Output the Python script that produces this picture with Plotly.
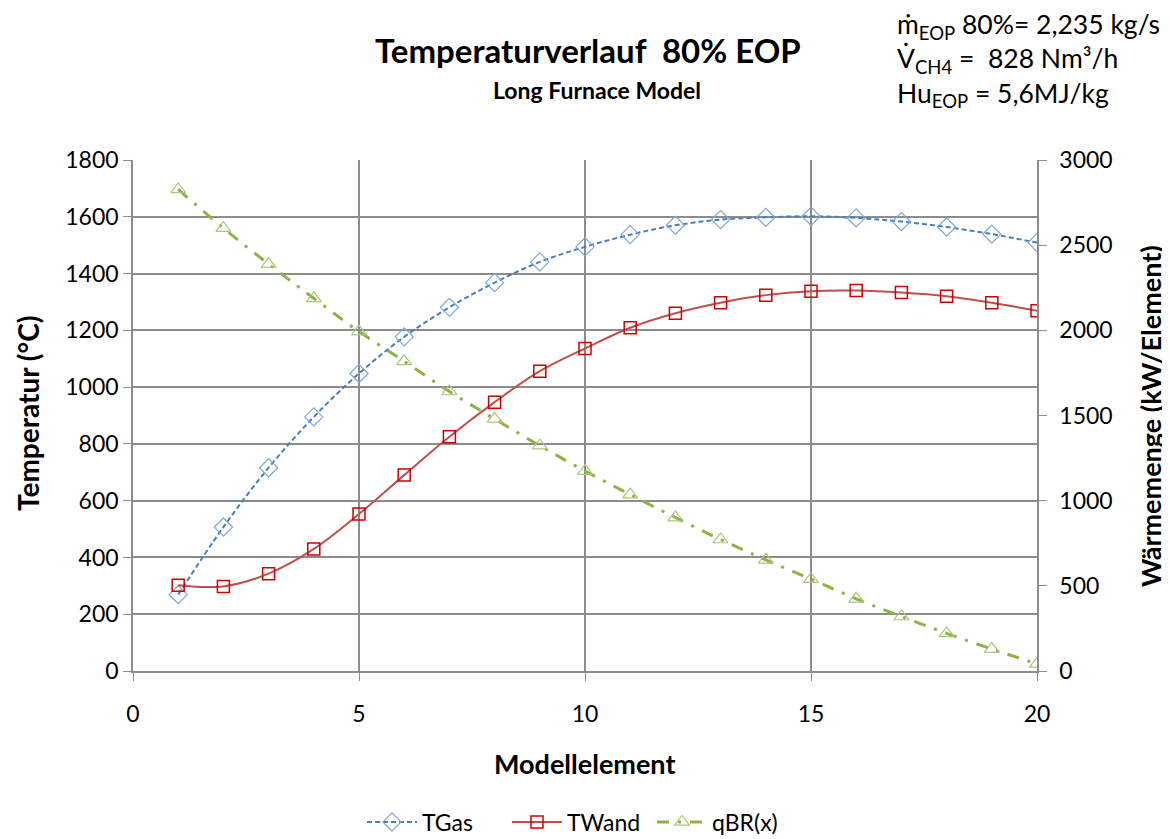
import plotly.graph_objects as go

elements = list(range(1, 21))
t_gas = [269, 507, 716, 895, 1048, 1177, 1281, 1368, 1441, 1494,
         1537, 1570, 1590, 1598, 1602, 1596, 1583, 1564, 1539, 1509]
t_wand = [302, 298, 343, 430, 553, 690, 825, 947, 1056, 1136,
          1209, 1260, 1297, 1324, 1338, 1340, 1333, 1320, 1297, 1269]
q_br = [2827, 2600, 2389, 2188, 1993, 1818, 1641, 1480, 1323, 1174,
        1036, 901, 772, 652, 539, 424, 320, 221, 129, 42]

FONT = "Lato"
GRID = "#8c8c8c"

# plot area on screen (px): x 133..1037, y 160..671 ; figure drawn with 8px page offset
X0, X1, Y0, Y1 = 133, 1037, 160, 671


def px(xp):
    return (xp - X0) / (X1 - X0)


def py(yp):
    return (Y1 - yp) / (Y1 - Y0)


fig = go.Figure()
fig.add_trace(go.Scatter(
    x=elements, y=t_gas, name="TGas", mode="lines+markers",
    line=dict(color="#4a7ebb", width=2, dash="5px,3px", shape="spline"),
    marker=dict(symbol="diamond-open", size=14, color="#7ea6dc", line=dict(width=1.2)),
))
fig.add_trace(go.Scatter(
    x=elements, y=t_wand, name="TWand", mode="lines+markers",
    line=dict(color="#c0504d", width=2, shape="spline"),
    marker=dict(symbol="square-open", size=12, color="#d00000", line=dict(width=1.5)),
))
fig.add_trace(go.Scatter(
    x=elements, y=q_br, name="qBR(x)", mode="lines+markers", yaxis="y2",
    line=dict(color="#8db345", width=3, dash="12px,9px,3px,9px", shape="spline"),
    marker=dict(symbol="triangle-up-open", size=13, color="#a9c878", line=dict(width=1.2)),
))

axis_common = dict(
    showline=True, linecolor=GRID, linewidth=1.5, ticks="outside", ticklen=8,
    tickcolor=GRID, tickfont=dict(family=FONT, size=23, color="#000"),
    zeroline=False,
)

fig.update_layout(
    width=1162, height=831,
    paper_bgcolor="white", plot_bgcolor="white",
    margin=dict(l=125, r=133, t=152, b=168, autoexpand=False),
    font=dict(family=FONT, color="#000"),
    showlegend=True,
    legend=dict(orientation="h", x=px(362), xanchor="left", y=py(822), yanchor="middle",
                font=dict(family=FONT, size=23), tracegroupgap=0, itemwidth=50,
                entrywidth=80, entrywidthmode="pixels"),
    xaxis=dict(range=[0, 20], dtick=5, showgrid=True, gridcolor=GRID, gridwidth=1.5,
               ticklabelstandoff=14, **axis_common),
    yaxis=dict(range=[0, 1800], dtick=200, showgrid=True, gridcolor=GRID, gridwidth=1.5,
               **axis_common),
    yaxis2=dict(range=[0, 3000], dtick=500, overlaying="y", side="right", showgrid=False,
                ticklabelstandoff=8, **axis_common),
    annotations=[
        dict(text="<b>Temperaturverlauf  80% EOP</b>", x=px(588), y=py(50),
             xref="paper", yref="paper", xanchor="center", yanchor="middle",
             showarrow=False, font=dict(family=FONT, size=33)),
        dict(text="<b>Long Furnace Model</b>", x=px(597), y=py(90),
             xref="paper", yref="paper", xanchor="center", yanchor="middle",
             showarrow=False, font=dict(family=FONT, size=23)),
        dict(text="ṁ<sub>EOP</sub> 80%= 2,235 kg/s<br>V̇<sub>CH4</sub> =  828 Nm³/h<br>Hu<sub>EOP</sub> = 5,6MJ/kg",
             x=px(895), y=py(6), xref="paper", yref="paper", xanchor="left", yanchor="top",
             showarrow=False, align="left", font=dict(family=FONT, size=26.5)),
        dict(text="<b>Modellelement</b>", x=px(584), y=py(763),
             xref="paper", yref="paper", xanchor="center", yanchor="middle",
             showarrow=False, font=dict(family=FONT, size=27)),
        dict(text="<b>Temperatur (°C)</b>", x=px(28), y=py(414), textangle=-90,
             xref="paper", yref="paper", xanchor="center", yanchor="middle",
             showarrow=False, font=dict(family=FONT, size=28)),
        dict(text="<b>Wärmemenge (kW/Element)</b>", x=px(1150), y=py(416), textangle=-90,
             xref="paper", yref="paper", xanchor="center", yanchor="middle",
             showarrow=False, font=dict(family=FONT, size=27)),
    ],
)

fig.write_html("out.html")
